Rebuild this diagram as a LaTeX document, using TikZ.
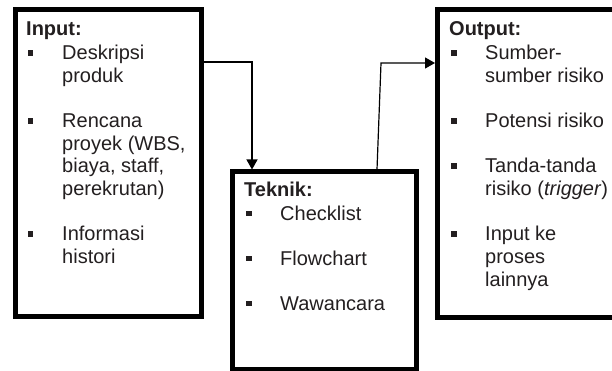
\documentclass[tikz,border=0pt]{standalone}
\usepackage{fontspec}
\setmainfont{Liberation Sans}
\usetikzlibrary{arrows.meta}
\definecolor{ink}{HTML}{231F20}
\newcommand\blt{\makebox[36pt][l]{\hspace{1.8pt}\rule[4pt]{5.5pt}{5.5pt}}}
\newcommand\ind{\hspace*{36pt}}
\begin{document}
\begin{tikzpicture}[x=1pt,y=-1pt,
 box/.style={draw=black, line width=5pt, rectangle, inner sep=0pt, anchor=north west},
 txt/.style={anchor=base west, inner sep=0pt, text=ink, font=\fontsize{20}{22.6}\selectfont},
 hdr/.style={txt, font=\fontsize{20}{22.6}\selectfont\bfseries},
 conn/.style={draw=black, line width=1.2pt, -{Triangle[width=11pt,length=10pt]}}]
\useasboundingbox (0,0) rectangle (612,371);
\fill[white] (0,0) rectangle (612,371);
% boxes
\node[box, minimum width=186pt, minimum height=306.5pt] (inbox) at (13,7.5) {};
\node[box, minimum width=184pt, minimum height=197pt] (tekbox) at (230,169.5) {};
\node[box, minimum width=186pt, minimum height=307pt] (outbox) at (435,7.5) {};
% input texts
\node[hdr] (inhead) at (26,35.7) {Input:};
\foreach \i/\t in {0/{\blt Deskripsi},1/{\ind produk},3/{\blt Rencana},4/{\ind proyek (WBS,},5/{\ind biaya, staff,},6/{\ind perekrutan)},8/{\blt Informasi},9/{\ind histori}}
  \node[txt] (in\i) at (26,60+\i*22.6) {\t};
% teknik texts
\node[hdr] (tekhead) at (244,196.7) {Teknik:};
\foreach \i/\t in {0/{\blt Checklist},2/{\blt Flowchart},4/{\blt Wawancara}}
  \node[txt] (tek\i) at (244,220+\i*22.6) {\t};
% output texts
\node[hdr] (outhead) at (449,35.5) {Output:};
\foreach \i/\t in {0/{\blt Sumber-},1/{\ind sumber risiko},3/{\blt Potensi risiko},5/{\blt Tanda-tanda},6/{\ind risiko (\textit{trigger})},8/{\blt Input ke},9/{\ind proses},10/{\ind lainnya}}
  \node[txt] (out\i) at (449,60+\i*22.6) {\t};
% connectors
\coordinate (k1) at (252,62);
\draw[conn] (inbox.east |- k1) -- (k1) -- (k1 |- tekbox.north);
\coordinate (k2) at (381,63);
\coordinate (k2s) at (377,0);
\draw[conn] (tekbox.north -| k2s) -- (k2) -- (k2 -| outbox.west);
\end{tikzpicture}
\end{document}
